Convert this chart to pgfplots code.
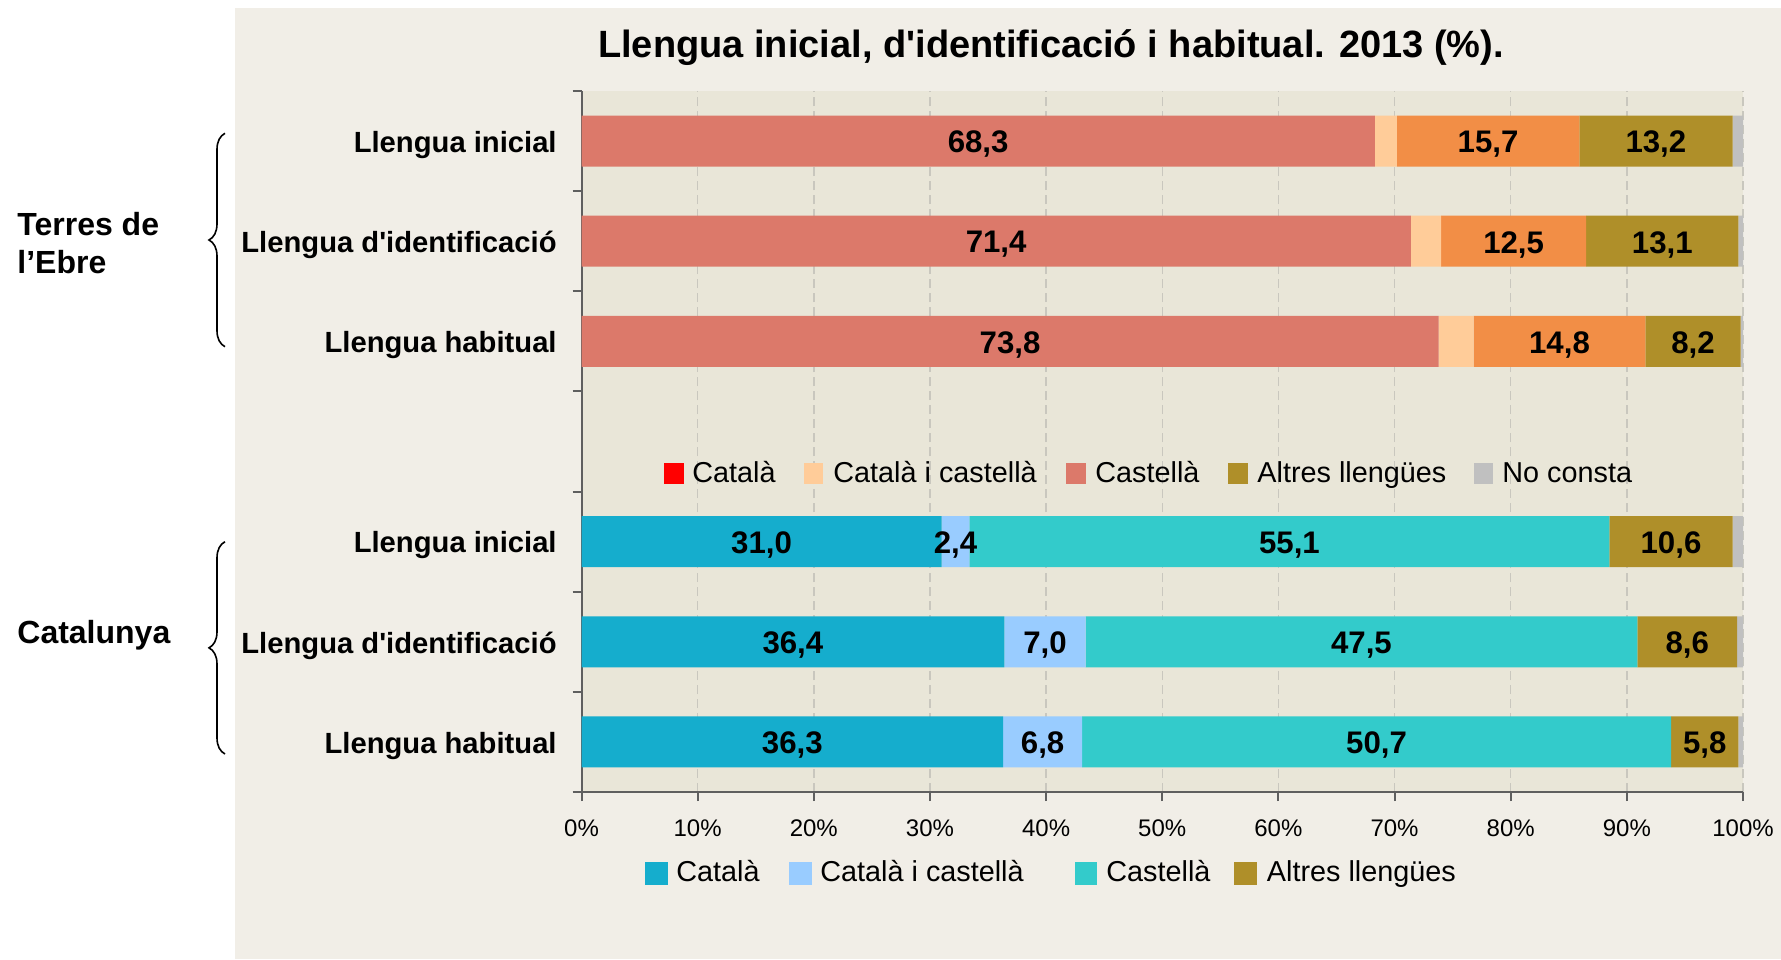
\documentclass[border=0pt]{standalone}
\usepackage{fontspec}
\setmainfont{Liberation Sans}[Ligatures=TeXOff]
\usepackage{pgfplots}
\usepackage{pgfplotstable}
\pgfplotsset{compat=1.18}
\usetikzlibrary{decorations.pathreplacing}

\definecolor{panelbg}{HTML}{F1EEE7}
\definecolor{plotbg}{HTML}{E9E6D8}
\definecolor{salmon}{HTML}{DC796A}
\definecolor{peach}{HTML}{FFCC99}
\definecolor{orangeb}{HTML}{F28E46}
\definecolor{olive}{HTML}{AF8F29}
\definecolor{greyc}{HTML}{C0C0C0}
\definecolor{catblue}{HTML}{15ADCD}
\definecolor{lightblue}{HTML}{99CCFF}
\definecolor{turq}{HTML}{33CBCB}
\definecolor{axisgrey}{HTML}{5F5F5F}
\definecolor{gridgrey}{HTML}{C9C7BE}
\definecolor{redc}{HTML}{FF0000}

\newcommand\fTitle{\fontsize{19}{23}\selectfont\bfseries}
\newcommand\fCat{\fontsize{14.6}{17}\selectfont\bfseries}
\newcommand\fVal{\fontsize{15.6}{18}\selectfont\bfseries}
\newcommand\fGroup{\fontsize{16}{19}\selectfont\bfseries}
\newcommand\fTick{\fontsize{12}{14}\selectfont}
\newcommand\fLeg{\fontsize{14.4}{17}\selectfont}

% rows: 6,5,4 = Terres de l'Ebre ; 2,1,0 = Catalunya
\pgfplotstableread{
y  t1   t2  t3   t4   t5   b1   b2  b3   b4   b5
6  68.3 1.9 15.7 13.2 0.9  0    0   0    0    0
5  71.4 2.6 12.5 13.1 0.4  0    0   0    0    0
4  73.8 3.0 14.8 8.2  0.2  0    0   0    0    0
2  0    0   0    0    0    31.0 2.4 55.1 10.6 0.9
1  0    0   0    0    0    36.4 7.0 47.5 8.6  0.5
0  0    0   0    0    0    36.3 6.8 50.7 5.8  0.4
}\data

\pgfplotstableread{
x     y lbl
34.15 6 68,3
78.05 6 15,7
92.5  6 13,2
35.7  5 71,4
80.25 5 12,5
93.05 5 13,1
36.9  4 73,8
84.2  4 14,8
95.7  4 8,2
15.5  2 31,0
32.2  2 2,4
60.95 2 55,1
93.8  2 10,6
18.2  1 36,4
39.9  1 7,0
67.15 1 47,5
95.2  1 8,6
18.15 0 36,3
39.7  0 6,8
68.45 0 50,7
96.7  0 5,8
}\labels

\begin{document}
\begin{tikzpicture}
% backgrounds
\fill[white] (0,0) rectangle (890.5pt,-479.5pt);
\fill[panelbg] (117.5pt,-4pt) rectangle (890.5pt,-479.5pt);

% bars
\begin{axis}[
  at={(290.75pt,-396pt)}, anchor=south west,
  scale only axis, width=580.75pt, height=350.5pt,
  xmin=0, xmax=100, ymin=-0.5, ymax=6.5,
  xbar stacked, bar width=25.5pt,
  axis background/.style={fill=plotbg},
  axis x line*=bottom, axis y line*=left,
  axis line style={-, draw=axisgrey, line width=1pt},
  tick style={draw=axisgrey, line width=1pt},
  tick align=outside, major tick length=4.5pt,
  xtick={0,10,20,30,40,50,60,70,80,90,100}, xticklabels={},
  ytick={-0.5,0.5,1.5,2.5,3.5,4.5,5.5,6.5}, yticklabels={},
  xmajorgrids,
  major grid style={draw=gridgrey, line width=0.75pt, dash pattern=on 4.5pt off 2.5pt},
]
\addplot[fill=salmon, draw=none] table[x=t1, y=y] {\data};
\addplot[fill=peach, draw=none] table[x=t2, y=y] {\data};
\addplot[fill=orangeb, draw=none] table[x=t3, y=y] {\data};
\addplot[fill=olive, draw=none] table[x=t4, y=y] {\data};
\addplot[fill=greyc, draw=none] table[x=t5, y=y] {\data};
\addplot[fill=catblue, draw=none] table[x=b1, y=y] {\data};
\addplot[fill=lightblue, draw=none] table[x=b2, y=y] {\data};
\addplot[fill=turq, draw=none] table[x=b3, y=y] {\data};
\addplot[fill=olive, draw=none] table[x=b4, y=y] {\data};
\addplot[fill=greyc, draw=none] table[x=b5, y=y] {\data};
\end{axis}

% labels
\begin{axis}[
  at={(290.75pt,-396pt)}, anchor=south west,
  scale only axis, width=580.75pt, height=350.5pt,
  xmin=0, xmax=100, ymin=-0.5, ymax=6.5,
  axis line style={draw=none}, tick style={draw=none}, major tick length=0pt,
  xtick={0,10,20,30,40,50,60,70,80,90,100},
  xticklabels={0\%,10\%,20\%,30\%,40\%,50\%,60\%,70\%,80\%,90\%,100\%},
  ytick={0,1,2,4,5,6},
  yticklabels={Llengua habitual,Llengua d'identificació,Llengua inicial,Llengua habitual,Llengua d'identificació,Llengua inicial},
  xtick pos=bottom, ytick pos=left,
  xticklabel style={font=\fTick, anchor=base, inner sep=0pt, yshift=-22pt},
  yticklabel style={font=\fCat, anchor=base east, inner sep=0pt, xshift=-12.25pt, yshift=-5.65pt},
]
\addplot[draw=none, mark=none, point meta=explicit symbolic, nodes near coords,
  nodes near coords style={font=\fVal, anchor=center, text depth=0pt, inner sep=0pt, yshift=-0.5pt}]
  table[x=x, y=y, meta=lbl] {\labels};
\end{axis}

% title
\node[anchor=base] at (525.5pt,-28.65pt) {\fTitle Llengua inicial, d'identificació i habitual. 2013 (\%).};

% group labels and braces
\node[anchor=base west, inner sep=0pt] at (8.5pt,-117.5pt) {\fGroup Terres de};
\node[anchor=base west, inner sep=0pt] at (8.5pt,-136.5pt) {\fGroup l’Ebre};
\node[anchor=base west, inner sep=0pt] at (8.5pt,-321.5pt) {\fGroup Catalunya};
\draw[decorate, decoration={brace, amplitude=8pt}, line width=0.8pt] (112.5pt,-173.35pt) -- (112.5pt,-66.65pt);
\draw[decorate, decoration={brace, amplitude=8pt}, line width=0.8pt] (112.5pt,-377pt) -- (112.5pt,-270.85pt);

% middle legend (Terres de l'Ebre)
\fill[redc]   (332pt,-231.5pt) rectangle (342pt,-242pt);
\fill[peach]  (402pt,-231.5pt) rectangle (411.5pt,-242pt);
\fill[salmon] (533pt,-231.5pt) rectangle (543pt,-242pt);
\fill[olive]  (614pt,-231.5pt) rectangle (624pt,-242pt);
\fill[greyc]  (737pt,-231.5pt) rectangle (746.5pt,-242pt);
\node[anchor=base west, inner sep=0pt] at (346pt,-241.25pt) {\fLeg Català};
\node[anchor=base west, inner sep=0pt] at (416.5pt,-241.25pt) {\fLeg Català i castellà};
\node[anchor=base west, inner sep=0pt] at (547.5pt,-241.25pt) {\fLeg Castellà};
\node[anchor=base west, inner sep=0pt] at (628.5pt,-241.25pt) {\fLeg Altres llengües};
\node[anchor=base west, inner sep=0pt] at (751pt,-241.25pt) {\fLeg No consta};

% bottom legend (Catalunya)
\fill[catblue]   (322.5pt,-431pt) rectangle (334pt,-442.5pt);
\fill[lightblue] (394.5pt,-431pt) rectangle (406pt,-442.5pt);
\fill[turq]      (537.5pt,-431pt) rectangle (548.5pt,-442.5pt);
\fill[olive]     (617pt,-431pt) rectangle (628.5pt,-442.5pt);
\node[anchor=base west, inner sep=0pt] at (338pt,-440.5pt) {\fLeg Català};
\node[anchor=base west, inner sep=0pt] at (410pt,-440.5pt) {\fLeg Català i castellà};
\node[anchor=base west, inner sep=0pt] at (553pt,-440.5pt) {\fLeg Castellà};
\node[anchor=base west, inner sep=0pt] at (633.25pt,-440.5pt) {\fLeg Altres llengües};

\pgfresetboundingbox
\useasboundingbox (0,0) rectangle (890.5pt,-479.5pt);
\end{tikzpicture}
\end{document}
